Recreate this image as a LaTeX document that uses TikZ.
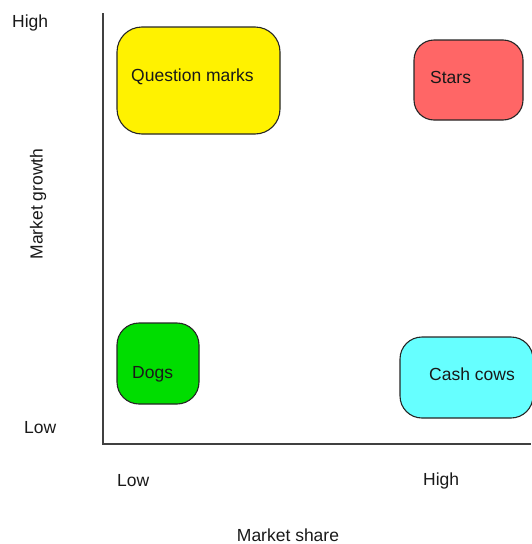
\documentclass[tikz,border=0pt]{standalone}
\usepackage{fontspec}
\setmainfont{Liberation Sans}
\begin{document}
\begin{tikzpicture}[x=1pt,y=-1pt,
  box/.style={draw=black!85, line width=1.1pt, inner sep=0pt},
  lbl/.style={font=\fontsize{17.5}{20}\selectfont, inner sep=0pt, text=black!90},
  axis/.style={draw=black!75, line width=1.6pt}]
\useasboundingbox (0,0) rectangle (531,544);
% axes
\coordinate (top) at (103,13);
\coordinate (origin) at (103,444);
\coordinate (right) at (531,444);
\draw[axis] (top) -- (origin) -- (right);
% quadrant boxes
\node[box, fill=yellow, rounded corners=25pt, minimum width=163pt, minimum height=107pt] (qm) at (198.5,80.5) {};
\node[box, fill={rgb,255:red,255;green,102;blue,102}, rounded corners=20pt, minimum width=109pt, minimum height=80pt] (stars) at (468.5,80) {};
\node[box, fill={rgb,255:red,0;green,221;blue,0}, rounded corners=22pt, minimum width=82pt, minimum height=81pt] (dogs) at (158,363.5) {};
\node[box, fill={rgb,255:red,102;green,255;blue,255}, rounded corners=22pt, minimum width=133pt, minimum height=81pt] (cows) at (466.5,377.5) {};
% box labels
\node[lbl, anchor=west] (qmt) at (131,77) {Question marks};
\node[lbl, anchor=west] (starst) at (430,77) {Stars};
\node[lbl, anchor=west] (dogst) at (132,374) {Dogs};
\node[lbl, anchor=west] (cowst) at (429,374) {Cash cows};
% axis labels
\node[lbl, anchor=west] (yhigh) at (12,23) {High};
\node[lbl, anchor=west] (ylow) at (24,428) {Low};
\node[lbl, anchor=west] (xlow) at (117,481) {Low};
\node[lbl, anchor=west] (xhigh) at (423,481) {High};
\node[lbl] (xtitle) at (288,535) {Market share};
\node[lbl, rotate=90] (ytitle) at (38,204) {Market growth};
\end{tikzpicture}
\end{document}
